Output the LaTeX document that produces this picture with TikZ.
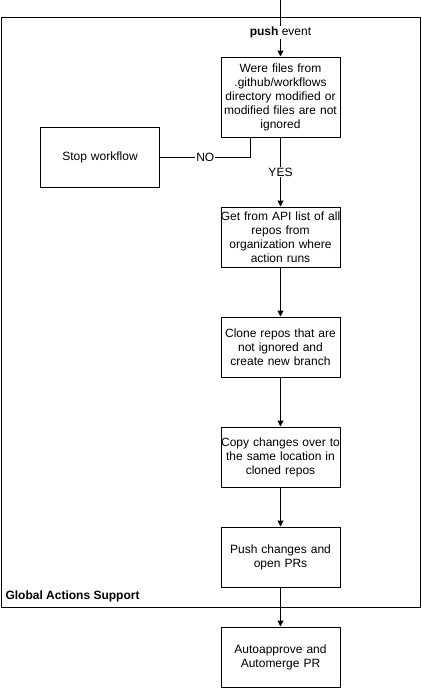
\documentclass[tikz,border=0pt]{standalone}
\usepackage{fontspec}
\setmainfont{Liberation Sans}
\usetikzlibrary{arrows.meta}
\begin{document}
\begin{tikzpicture}[x=1pt,y=-1pt,
  every node/.style={font=\fontsize{12}{14}\selectfont},
  procbox/.style={draw, line width=1pt, minimum width=119pt, minimum height=60pt, text width=119pt, inner sep=0pt, align=center},
  conn/.style={line width=1pt},
  arr/.style={conn, -{Triangle[length=6pt,width=6pt]}},
  lbl/.style={fill=white, inner sep=1pt}]
\useasboundingbox (0,0) rectangle (421,688);
\draw[line width=1pt] (1,17) rectangle (420,607);
\node[anchor=west, font=\fontsize{12}{14}\selectfont\bfseries] (gas) at (2,596) {Global Actions Support};
\coordinate (start) at (280.5,0);
\node[procbox, minimum height=80pt] (b1) at (280.5,97) {Were files from\\.github/workflows\\directory modified or\\modified files are not\\ignored};
\node[procbox] (stop) at (100,157) {Stop workflow};
\node[procbox] (b2) at (280.5,237) {\makebox[0pt]{Get from API list of all}\\repos from\\organization where\\action runs};
\node[procbox] (b3) at (280.5,347) {Clone repos that are\\not ignored and\\create new branch};
\node[procbox] (b4) at (280.5,457) {\makebox[0pt]{Copy changes over to}\\the same location in\\cloned repos};
\node[procbox] (b5) at (280.5,557) {Push changes and\\open PRs};
\node[procbox] (b6) at (280.5,657) {Autoapprove and\\Automerge PR};
\draw[arr] (start) -- node[lbl, pos=0.58] {\textbf{push} event} (b1);
\draw[conn] ([xshift=-30pt]b1.south) |- node[lbl, pos=0.75] {NO} (stop.east);
\draw[arr] (b1) -- node[lbl, pos=0.5] {YES} (b2);
\draw[arr] (b2) -- (b3);
\draw[arr] (b3) -- (b4);
\draw[arr] (b4) -- (b5);
\draw[arr] (b5) -- (b6);
\end{tikzpicture}
\end{document}
